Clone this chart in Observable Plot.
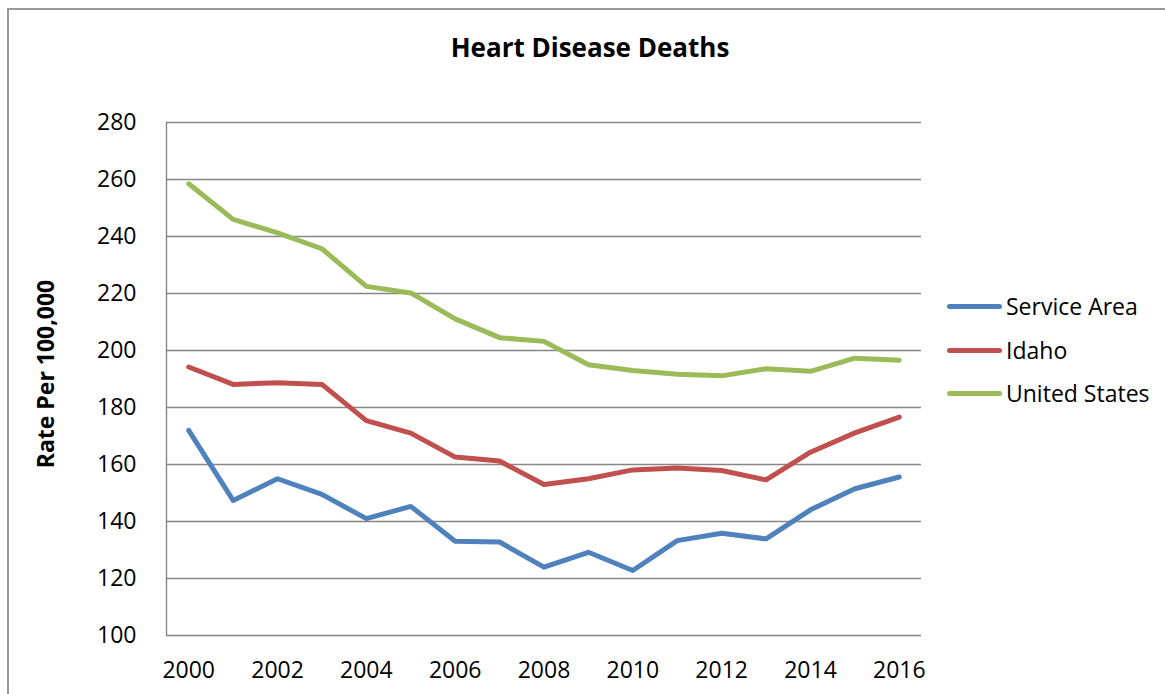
<!DOCTYPE html>
<html>
<head>
<meta charset="utf-8">
<script src="https://cdn.jsdelivr.net/npm/d3@7"></script>
<script src="https://cdn.jsdelivr.net/npm/@observablehq/plot@0.6"></script>
<style>
  html, body { margin: 0; padding: 0; background: #fff; }
  body { width: 1165px; height: 694px; overflow: hidden; position: relative; font-family: "Open Sans", sans-serif; }
  #frame { position: absolute; left: 7px; top: 8px; right: -10px; bottom: -10px; border-left: 2px solid #999; border-top: 2px solid #999; }
  #title { position: absolute; left: 0; width: 1180px; top: 34px; text-align: center; font-size: 26px; line-height: 26px; font-weight: bold; color: #000; }
  #ylabel { position: absolute; left: 45px; top: 374px; transform: translate(-50%, -50%) rotate(-90deg); white-space: nowrap; font-size: 23px; line-height: 23px; font-weight: bold; color: #000; }
  #chart { position: absolute; left: 0; top: 0; }
  .leg { position: absolute; left: 947px; height: 24px; display: flex; align-items: center; font-size: 23px; line-height: 24px; color: #000; white-space: nowrap; }
  .leg .sw { width: 55px; height: 5px; border-radius: 3px; margin-right: 4px; }
</style>
</head>
<body>
<div id="frame"></div>
<div id="chart"></div>
<div id="title">Heart Disease Deaths</div>
<div id="ylabel">Rate Per 100,000</div>
<div id="legend"></div>
<script>
const years = [2000, 2001, 2002, 2003, 2004, 2005, 2006, 2007, 2008, 2009, 2010, 2011, 2012, 2013, 2014, 2015, 2016];
const serviceArea = [172, 147.4, 155, 149.5, 141, 145.3, 133.1, 132.8, 124, 129.2, 122.8, 133.3, 135.9, 133.9, 144.1, 151.5, 155.6];
const idaho = [194.2, 188.1, 188.7, 188.1, 175.4, 171, 162.6, 161.2, 153, 155, 158.1, 158.8, 157.9, 154.6, 164.3, 171.1, 176.6];
const unitedStates = [258.5, 246, 241.3, 235.7, 222.5, 220.2, 211.1, 204.5, 203.2, 195, 193, 191.7, 191.1, 193.6, 192.7, 197.3, 196.6];
const seriesNames = ["Service Area", "Idaho", "United States"];
const seriesColors = ["#4F81BD", "#C0504D", "#9BBB59"];
const yTicks = [100, 120, 140, 160, 180, 200, 220, 240, 260, 280];
const xTicks = [2000, 2002, 2004, 2006, 2008, 2010, 2012, 2014, 2016];

const seriesValues = [serviceArea, idaho, unitedStates];
const rows = [];
seriesNames.forEach((name, i) => {
  years.forEach((yr, j) => rows.push({series: name, year: yr, value: seriesValues[i][j]}));
});

const chart = Plot.plot({
  width: 1165,
  height: 694,
  marginLeft: 166,
  marginRight: 244,
  marginTop: 122,
  marginBottom: 59,
  style: {fontFamily: "Open Sans, sans-serif", fontSize: "23px", color: "#000", background: "transparent"},
  x: {type: "linear", domain: [years[0] - 0.5, years[years.length - 1] + 0.5]},
  y: {domain: [yTicks[0], yTicks[yTicks.length - 1]]},
  color: {domain: seriesNames, range: seriesColors},
  marks: [
    Plot.ruleY(yTicks, {stroke: "#868686", strokeWidth: 1.4, strokeOpacity: 1}),
    Plot.ruleX([years[0] - 0.5], {stroke: "#868686", strokeWidth: 1.4}),
    Plot.axisY({ticks: yTicks, tickSize: 0, tickPadding: 30, label: null, fontSize: 23, tickFormat: d => String(d)}),
    Plot.axisX({ticks: xTicks, tickSize: 0, tickPadding: 26, label: null, fontSize: 23, tickFormat: d => String(d)}),
    Plot.line(rows, {x: "year", y: "value", z: "series", stroke: "series", strokeWidth: 5, strokeLinejoin: "round", strokeLinecap: "round"})
  ]
});
document.getElementById("chart").appendChild(chart);

const legend = document.getElementById("legend");
const legendTops = [294, 338, 381];
seriesNames.forEach((name, i) => {
  const d = document.createElement("div");
  d.className = "leg";
  d.style.top = legendTops[i] + "px";
  const sw = document.createElement("div");
  sw.className = "sw";
  sw.style.background = seriesColors[i];
  const t = document.createElement("span");
  t.textContent = name;
  d.appendChild(sw);
  d.appendChild(t);
  legend.appendChild(d);
});
</script>
</body>
</html>
